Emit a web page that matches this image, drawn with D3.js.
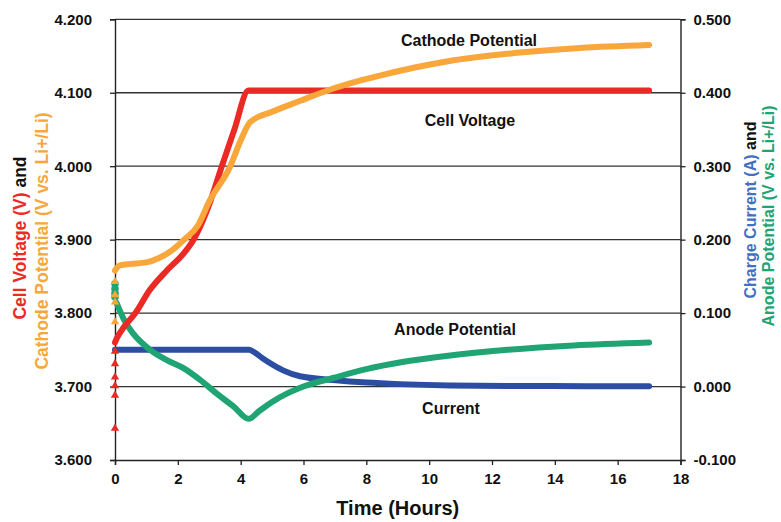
<!DOCTYPE html>
<html>
<head>
<meta charset="utf-8">
<script src="https://cdn.jsdelivr.net/npm/d3@7"></script>
<style>
  body { margin: 0; background: #fff; }
  svg text { font-family: "Liberation Sans", Arial, sans-serif; font-weight: bold; }
</style>
</head>
<body>
<svg id="chart" width="781" height="522"></svg>
<script>
// time axis ticks (hours)
var timeTicks = [0, 2, 4, 6, 8, 10, 12, 14, 16, 18],
    leftTicks = [3.6, 3.7, 3.8, 3.9, 4.0, 4.1, 4.2],
    rightTicks = [-0.1, 0.0, 0.1, 0.2, 0.3, 0.4, 0.5];

// Cell Voltage (V)
var cellTime = [0, 0.05, 0.3, 0.65, 1.1, 1.65, 2.2, 2.5, 3.0, 3.4, 3.8, 4.25, 6, 8, 10, 12, 14, 16, 17],
    cellVolt = [3.760, 3.765, 3.782, 3.800, 3.831, 3.858, 3.882, 3.900, 3.948, 4.000, 4.050, 4.103, 4.103, 4.103, 4.103, 4.103, 4.103, 4.103, 4.103],
    cellStart = [3.643, 3.688, 3.701, 3.713, 3.731, 3.748]; // scattered points at t = 0

// Cathode Potential (V vs. Li+/Li)
var cathTime = [0, 0.15, 0.5, 1.0, 1.4, 1.8, 2.2, 2.65, 3.0, 3.67, 4.0, 4.3, 5.0, 5.9, 6.5, 7.5, 8.5, 9.5, 10.6, 12.7, 14.8, 17.0],
    cathVolt = [3.858, 3.865, 3.867, 3.869, 3.875, 3.885, 3.900, 3.920, 3.952, 4.000, 4.035, 4.060, 4.074, 4.089, 4.099, 4.113, 4.124, 4.134, 4.143, 4.154, 4.161, 4.165],
    cathStart = [3.843, 3.825, 3.815, 3.788];

// Charge Current (A)
var curTime = [0, 4.27, 4.46, 4.68, 4.93, 5.35, 5.89, 6.94, 8.02, 9.07, 10.66, 13, 15, 17],
    current = [0.050, 0.050, 0.046, 0.039, 0.032, 0.022, 0.014, 0.009, 0.0054, 0.0033, 0.0015, 0.0008, 0.0005, 0.0003];

// Anode Potential (V vs. Li+/Li)
var anTime = [0.05, 0.3, 0.58, 1.12, 1.65, 2.18, 2.71, 3.25, 3.77, 4.25, 4.6, 5.0, 5.5, 6.0, 6.97, 8.03, 9.1, 10.6, 12.5, 14.6, 17.0],
    anodeVolt = [0.114, 0.090, 0.072, 0.050, 0.036, 0.025, 0.009, -0.010, -0.027, -0.044, -0.033, -0.021, -0.009, 0.000, 0.012, 0.024, 0.033, 0.042, 0.050, 0.056, 0.060],
    anodeStart = [0.140, 0.133, 0.127, 0.122];

var colors = { red: '#ec2a25', orange: '#f9a63a', blue: '#2c4ea2', green: '#1fa474' };

var svg = d3.select('#chart'),
    x = d3.scaleLinear().domain([0, 18]).range([115, 680.5]),
    yL = d3.scaleLinear().domain([3.6, 4.2]).range([460, 19.3]),
    yR = d3.scaleLinear().domain([-0.1, 0.5]).range([460, 19.3]),
    fmt3 = function(d) { return d3.format('.3f')(d).replace('\u2212', '-'); }; // plain hyphen like the original

// grid lines
svg.append('g').selectAll('line')
  .data(leftTicks.slice(1))
  .enter().append('line')
  .attr('x1', x(0)).attr('x2', x(18))
  .attr('y1', function(d) { return yL(d); })
  .attr('y2', function(d) { return yL(d); })
  .attr('stroke', '#333').attr('stroke-width', 1.3);

// axes
var axisL = svg.append('g').attr('transform', 'translate(' + x(0) + ',0)')
  .call(d3.axisLeft(yL).tickValues(leftTicks).tickFormat(fmt3).tickSize(5).tickPadding(18));
var axisR = svg.append('g').attr('transform', 'translate(' + x(18) + ',0)')
  .call(d3.axisRight(yR).tickValues(rightTicks).tickFormat(fmt3).tickSize(5).tickPadding(8));
var axisB = svg.append('g').attr('transform', 'translate(0,' + yL(3.6) + ')')
  .call(d3.axisBottom(x).tickValues(timeTicks).tickFormat(d3.format('d')).tickSize(5).tickPadding(8));

[axisL, axisR, axisB].forEach(function(g) {
  g.select('.domain').attr('stroke', '#222').attr('stroke-width', 1.4);
  g.selectAll('.tick line').attr('stroke', '#222').attr('stroke-width', 1.3);
  g.selectAll('.tick text').attr('fill', '#111').style('font-size', '15px');
});

// series lines
function drawLine(xs, ys, yScale, color) {
  var pts = xs.map(function(t, i) { return [t, ys[i]]; });
  svg.append('path')
    .datum(pts)
    .attr('fill', 'none')
    .attr('stroke', color)
    .attr('stroke-width', 6)
    .attr('stroke-linecap', 'round')
    .attr('stroke-linejoin', 'round')
    .attr('d', d3.line()
      .x(function(d) { return x(d[0]); })
      .y(function(d) { return yScale(d[1]); })
      .curve(d3.curveMonotoneX));
}

function drawStart(vals, yScale, color, type, size) {
  svg.append('g').selectAll('path')
    .data(vals)
    .enter().append('path')
    .attr('transform', function(d) { return 'translate(' + x(0) + ',' + yScale(d) + ')'; })
    .attr('d', d3.symbol().type(type).size(size))
    .attr('fill', color);
}

drawLine(curTime, current, yR, colors.blue);
drawLine(anTime, anodeVolt, yR, colors.green);
drawStart(anodeStart, yR, colors.green, d3.symbolCircle, 45);
drawLine(cellTime, cellVolt, yL, colors.red);
drawStart(cellStart, yL, colors.red, d3.symbolTriangle, 30);
drawLine(cathTime, cathVolt, yL, colors.orange);
drawStart(cathStart, yL, colors.orange, d3.symbolTriangle, 30);

// series labels
var notes = [
  { text: 'Cathode Potential', x: 469, y: 40 },
  { text: 'Cell Voltage', x: 470, y: 120 },
  { text: 'Anode Potential', x: 455, y: 329 },
  { text: 'Current', x: 451, y: 408 }
];
svg.append('g').selectAll('text')
  .data(notes)
  .enter().append('text')
  .attr('x', function(d) { return d.x; })
  .attr('y', function(d) { return d.y; })
  .attr('text-anchor', 'middle')
  .attr('dominant-baseline', 'central')
  .style('font-size', '16px')
  .attr('fill', '#111')
  .text(function(d) { return d.text; });

// axis titles
svg.append('text')
  .attr('x', x(9)).attr('y', 508)
  .attr('text-anchor', 'middle')
  .attr('dominant-baseline', 'central')
  .style('font-size', '20px')
  .attr('fill', '#111')
  .text('Time (Hours)');

function titleLine(cx, cy, size, parts) {
  var t = svg.append('text')
    .attr('transform', 'translate(' + cx + ',' + cy + ') rotate(-90)')
    .attr('text-anchor', 'middle')
    .attr('dominant-baseline', 'central')
    .style('font-size', size + 'px');
  parts.forEach(function(p) {
    t.append('tspan').attr('fill', p[1]).text(p[0]);
  });
}

titleLine(20, 238, 17.5, [['Cell Voltage (V)', colors.red], [' and', '#111']]);
titleLine(42, 241, 17.5, [['Cathode Potential (V vs. Li+/Li)', colors.orange]]);
titleLine(750, 210, 16, [['Charge Current (A)', '#4470c0'], [' and', '#111']]);
titleLine(768, 216, 16, [['Anode Potential (V vs. Li+/Li)', colors.green]]);
</script>
</body>
</html>
